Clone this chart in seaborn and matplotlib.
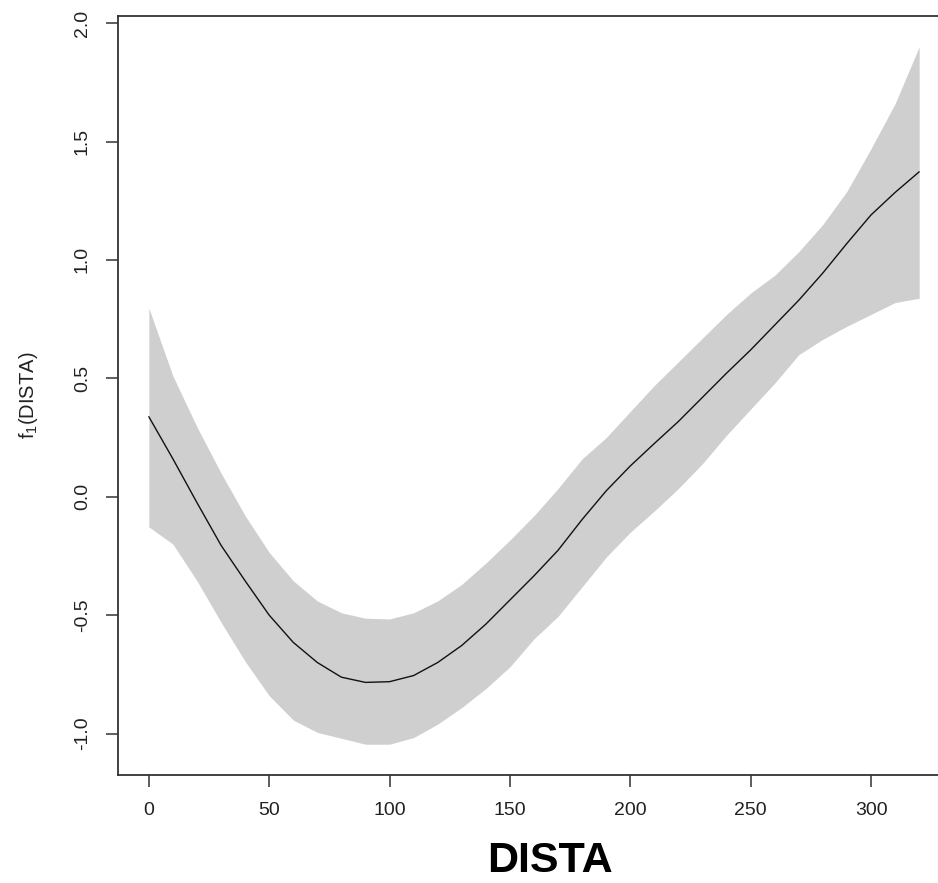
import matplotlib
matplotlib.use("Agg")
import matplotlib.pyplot as plt
import seaborn as sns
import pandas as pd
import numpy as np

# ---- data ----
dista = [0, 10, 20, 30, 40, 50, 60, 70, 80, 90, 100, 110, 120, 130, 140, 150, 160,
         170, 180, 190, 200, 210, 220, 230, 240, 250, 260, 270, 280, 290, 300, 310, 320]
fit = [0.338, 0.16, -0.025, -0.205, -0.355, -0.50, -0.615, -0.70, -0.762, -0.784, -0.781,
       -0.755, -0.70, -0.628, -0.538, -0.436, -0.334, -0.226, -0.096, 0.025, 0.13, 0.225,
       0.318, 0.42, 0.522, 0.62, 0.725, 0.83, 0.945, 1.07, 1.19, 1.285, 1.372]
upper = [0.797, 0.51, 0.295, 0.10, -0.08, -0.235, -0.355, -0.44, -0.49, -0.513, -0.516,
         -0.49, -0.44, -0.37, -0.28, -0.183, -0.08, 0.035, 0.16, 0.25, 0.36, 0.47, 0.57,
         0.67, 0.77, 0.86, 0.935, 1.035, 1.15, 1.29, 1.47, 1.66, 1.9]
lower = [-0.127, -0.2, -0.355, -0.53, -0.695, -0.84, -0.943, -0.995, -1.02, -1.045, -1.045,
         -1.017, -0.96, -0.89, -0.81, -0.718, -0.6, -0.505, -0.38, -0.255, -0.15, -0.06,
         0.035, 0.14, 0.26, 0.37, 0.48, 0.6, 0.665, 0.72, 0.77, 0.82, 0.838]
xticks = [0, 50, 100, 150, 200, 250, 300]
yticks = [-1.0, -0.5, 0.0, 0.5, 1.0, 1.5, 2.0]

df = pd.DataFrame({"DISTA": dista, "fit": fit, "upper": upper, "lower": lower})

sns.set_theme(style="ticks")
plt.rcParams["font.family"] = ["Liberation Sans", "DejaVu Sans"]
plt.rcParams["axes.unicode_minus"] = False
plt.rcParams["mathtext.default"] = "regular"

W, H = 938, 883
fig = plt.figure(figsize=(W / 100, H / 100), dpi=100)
left_px, right_px, top_px, bottom_px = 118, 950, 16, 775
ax = fig.add_axes([left_px / W, (H - bottom_px) / H,
                   (right_px - left_px) / W, (bottom_px - top_px) / H])

ax.fill_between(df["DISTA"], df["lower"], df["upper"], color="#cfcfcf", linewidth=0)
sns.lineplot(data=df, x="DISTA", y="fit", ax=ax, color="#111111", linewidth=1.0)

ax.set_xlim(-12.8, 332.8)
ax.set_ylim(-1.175, 2.03)
ax.set_xticks(xticks)
ax.set_xticklabels([str(v) for v in xticks])
ax.set_yticks(yticks)
ax.set_yticklabels([f"{v:.1f}" for v in yticks], rotation=90, va="center")

for s in ax.spines.values():
    s.set_color("#333333")
    s.set_linewidth(1.3)
ax.spines["right"].set_visible(False)

ax.tick_params(axis="both", length=8.6, width=1.1, color="#333333",
               labelsize=14, labelcolor="#222222")
ax.tick_params(axis="x", pad=11)
ax.tick_params(axis="y", pad=11)

ax.set_ylabel(r"f$_1$(DISTA)", fontsize=14.5, color="#222222")
ax.yaxis.set_label_coords((40 - left_px) / (right_px - left_px), 0.5)

ax.set_xlabel("DISTA", fontsize=31, fontweight="bold", color="black")
ax.xaxis.set_label_coords((550 - left_px) / (right_px - left_px),
                          -(881 - bottom_px) / (bottom_px - top_px))
ax.xaxis.label.set_va("bottom")

fig.savefig("out.png", dpi=100)
